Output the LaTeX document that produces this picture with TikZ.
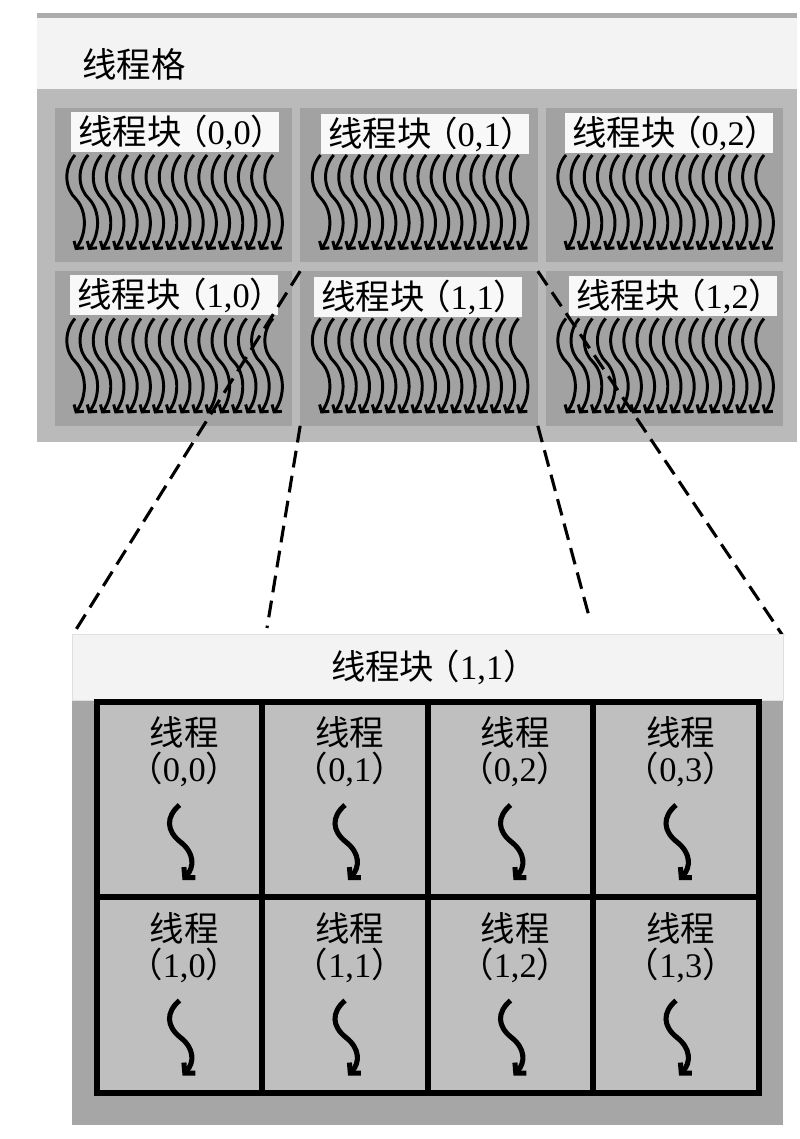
\documentclass[tikz,border=0pt]{standalone}
\usepackage{fontspec}
\setmainfont{Liberation Serif}
\newfontfamily\cjk{Noto Sans CJK SC}
\definecolor{headlight}{RGB}{243,243,243}
\definecolor{edgegray}{RGB}{172,172,172}
\definecolor{gridgray}{RGB}{186,186,186}
\definecolor{blockgray}{RGB}{162,162,162}
\definecolor{bodygray}{RGB}{166,166,166}
\definecolor{cellgray}{RGB}{191,191,191}
\definecolor{labelwhite}{RGB}{248,248,248}
\usepackage{xcolor}
\usepackage{tikz}
\usetikzlibrary{arrows.meta,positioning}

\begin{document}
\begin{tikzpicture}[x=0.025cm,y=-0.025cm,
      blk/.style={fill=blockgray,minimum width=5.925cm,minimum height=3.85cm,inner sep=0pt},
      lbl/.style={fill=labelwhite,minimum width=5.2cm,minimum height=1cm,inner sep=0pt,
                  font=\fontsize{24.5}{28}\selectfont},
      cell/.style={draw=black,line width=0.15cm,fill=cellgray,
                   minimum width=4.1375cm,minimum height=4.8875cm,inner sep=0pt},
      txt/.style={font=\fontsize{24.5}{28}\selectfont,inner sep=0pt},
      thread/.style={line width=2.1pt,-{Straight Barb[length=3.5pt,width=8.5pt]}},
      bigthread/.style={line width=3.6pt,-{Straight Barb[length=5pt,width=11pt]}},
      zoomline/.style={line width=2.2pt,dash pattern=on 12pt off 6pt}
    ]
      \fill[white] (0,0) rectangle (800,1139);
      \useasboundingbox (0,0) rectangle (800,1139);
      % Thread grid
      \fill[edgegray] (37,13) rectangle (797,18);
      \fill[headlight] (37,18) rectangle (797,89);
      \fill[gridgray] (37,89) rectangle (797,442);
      \node[txt] (gridttl) at (134,64) {\cjk 线程格};
      \foreach \r in {0,1}
        \foreach \c in {0,1,2}
          \node[blk] (b\r\c) at ({173.5+245.5*\c},{185+163.5*\r}) {};
      \foreach \r in {0,1}
        \foreach \c in {0,1,2}
          \foreach \k in {0,...,15}
            \draw[thread,shift={({75+245.5*\c+13.2*\k},{155+163.5*\r})}]
              (0,0) .. controls (-12,14) and (-10,34) .. (1,44)
                    .. controls (12,56) and (12,78) .. (0,95);
      \foreach \r/\c/\lx/\ly in {0/0/175/132,0/1/425/134,0/2/669/133,
                                 1/0/174/295,1/1/418/297,1/2/673/296}
        \node[lbl] (l\r\c) at (\lx,\ly) {{\cjk 线程块\kern-.25em（}\r,\c{\cjk ）\kern-.4em}};
      % Zoom lines
      \coordinate (za) at (72,636);
      \coordinate (zb) at (267,628);
      \coordinate (zc) at (590,620);
      \coordinate (zd) at (783,636);
      \draw[zoomline] (b11.north west) -- (za);
      \draw[zoomline] (b11.south west) -- (zb);
      \draw[zoomline] (b11.south east) -- (zc);
      \draw[zoomline] (b11.north east) -- (zd);
      % Block (1,1)
      \node[fill=bodygray,minimum width=17.775cm,minimum height=10.625cm,inner sep=0pt]
        (bbody) at (427.5,912.5) {};
      \node[txt,fill=headlight,draw=gray!25,minimum width=17.775cm,minimum height=1.65cm]
        (bhead) at (427.5,667) {{\cjk 线程块\kern-.25em（}1,1{\cjk ）\kern-.4em}};
      \foreach \r in {0,1}
        \foreach \c in {0,...,3} {
          \node[cell] (t\r\c) at ({179.5+165.5*\c},{799.5+195.5*\r}) {};
          \node[txt] (n\r\c) at ([xshift=0.12cm,yshift=1.67cm]t\r\c.center) {\cjk 线程};
          \node[txt] (i\r\c) at ([xshift=0.12cm,yshift=0.74cm]t\r\c.center)
            {{\cjk （}\r,\c{\cjk ）}};
          \draw[bigthread,shift={({179.5+165.5*\c},{805+195.5*\r})}]
            (0,0) .. controls (-14,12) and (-13,26) .. (1,37)
                  .. controls (15,48) and (15,62) .. (3,75);
        }
    \end{tikzpicture}
\end{document}
